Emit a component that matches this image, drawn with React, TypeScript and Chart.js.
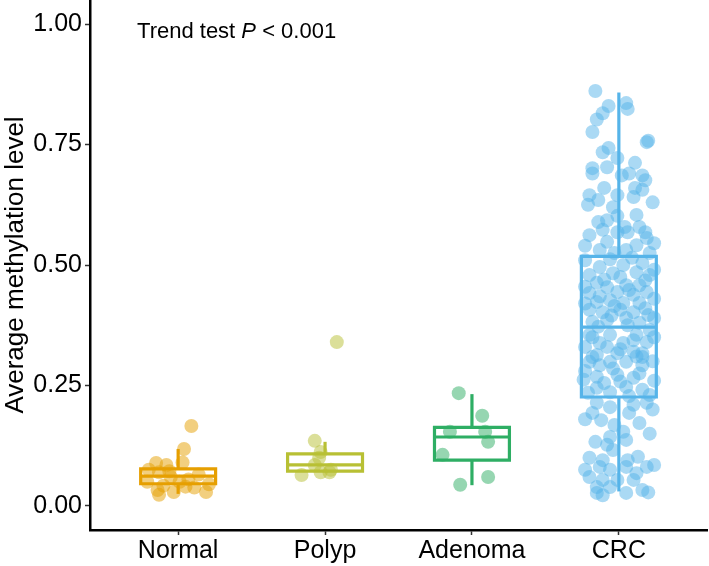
import React, { useEffect, useRef } from 'react';
import { Chart, registerables } from 'chart.js';

Chart.register(...registerables);

const FONT = "'Liberation Sans', Arial, Helvetica, sans-serif";

// ---------- data ----------
const categories = ['Normal', 'Polyp', 'Adenoma', 'CRC'];
const yTicks = [0, 0.25, 0.5, 0.75, 1.0];

const whiskerLow = [0.025, 0.072, 0.043, 0.03];
const q1 = [0.046, 0.072, 0.095, 0.226];
const median = [0.062, 0.085, 0.143, 0.371];
const q3 = [0.077, 0.108, 0.163, 0.518];
const whiskerHigh = [0.118, 0.133, 0.232, 0.858];

const normalValues = [0.166, 0.118, 0.089, 0.085, 0.09, 0.07, 0.065, 0.06, 0.055, 0.05, 0.045, 0.042, 0.038, 0.033, 0.023, 0.029, 0.04, 0.029, 0.05, 0.072, 0.075];
const normalJitter = [0.09, 0.04, -0.15, -0.08, 0.03, -0.13, 0.14, -0.05, 0.07, -0.21, 0.21, -0.1, 0.11, -0.14, -0.13, -0.03, 0.05, 0.19, 0.01, -0.06, -0.2];

const polypValues = [0.34, 0.135, 0.112, 0.064, 0.07, 0.07, 0.1, 0.075, 0.085];
const polypJitter = [0.08, -0.07, -0.03, -0.16, -0.03, 0.03, -0.04, 0.04, -0.07];

const adenomaValues = [0.234, 0.187, 0.154, 0.154, 0.133, 0.106, 0.044, 0.06];
const adenomaJitter = [-0.09, 0.07, -0.15, 0.09, 0.11, -0.2, -0.08, 0.11];

const crcValues = [
  0.861, 0.83, 0.836, 0.824, 0.815, 0.802, 0.776, 0.755, 0.758, 0.734, 0.743, 0.722, 0.701, 0.703, 0.712, 0.69, 0.686, 0.69, 0.686, 0.676,
  0.66, 0.645, 0.66, 0.656, 0.635, 0.645, 0.641, 0.62, 0.625, 0.63, 0.604, 0.602, 0.589, 0.593, 0.579, 0.579,
  0.562, 0.573, 0.568, 0.568, 0.568, 0.556, 0.548, 0.541, 0.531, 0.531, 0.545, 0.54, 0.525, 0.525,
  0.496, 0.5, 0.504, 0.479, 0.483, 0.485, 0.479, 0.463, 0.454, 0.458, 0.458, 0.442, 0.444, 0.438, 0.444, 0.423, 0.427, 0.421, 0.421, 0.407,
  0.402, 0.407, 0.402, 0.396, 0.386, 0.39, 0.382, 0.51, 0.512, 0.515, 0.49, 0.47, 0.475, 0.468, 0.455, 0.448, 0.43, 0.435, 0.415, 0.42,
  0.41, 0.375, 0.38, 0.395, 0.39, 0.372, 0.365,
  0.355, 0.355, 0.355, 0.34, 0.338, 0.338, 0.313, 0.317, 0.32, 0.309, 0.299, 0.299, 0.35, 0.33, 0.344, 0.317, 0.309, 0.292, 0.299, 0.292,
  0.268, 0.272, 0.266, 0.247, 0.245, 0.241, 0.236, 0.35, 0.33, 0.325, 0.3, 0.285, 0.28, 0.275, 0.26, 0.255, 0.235, 0.228, 0.23, 0.258, 0.262, 0.31,
  0.214, 0.205, 0.21, 0.214, 0.193, 0.193, 0.178, 0.172, 0.168, 0.154, 0.143, 0.133, 0.127, 0.137, 0.116, 0.1, 0.095, 0.095, 0.102, 0.081,
  0.081, 0.075, 0.081, 0.068, 0.06, 0.054, 0.054, 0.054, 0.039, 0.039, 0.033, 0.027, 0.027, 0.022, 0.028, 0.085, 0.075, 0.2, 0.18, 0.15,
];
const crcJitter = [
  -0.16, -0.07, 0.05, 0.06, -0.11, -0.15, -0.18, 0.19, 0.2, -0.11, -0.07, -0.01, -0.18, -0.08, 0.11, -0.18, 0.02, 0.07, 0.16, 0.18,
  -0.1, -0.2, 0.11, 0.16, -0.14, -0.01, 0.1, -0.04, -0.21, 0.23, 0.12, -0.01, -0.14, -0.08, 0.14, 0.04,
  -0.2, -0.11, -0.01, 0.06, 0.18, 0.19, -0.08, 0.12, -0.13, 0.05, 0.24, -0.23, -0.03, 0.21,
  -0.13, 0.03, 0.16, -0.2, -0.04, 0.12, 0.21, -0.15, -0.08, 0.05, 0.14, -0.2, -0.01, 0.1, 0.19, -0.15, -0.06, 0.03, 0.14, -0.2,
  -0.11, 0.01, 0.1, 0.2, -0.08, 0.05, -0.18, -0.23, -0.06, 0.09, 0.24, -0.1, 0.01, 0.18, -0.23, 0.07, 0.24, -0.13, -0.03, -0.23,
  0.18, 0.06, 0.14, -0.05, 0.24, -0.14, 0.21,
  -0.2, -0.06, 0.12, 0.19, -0.13, 0.03, -0.15, -0.01, 0.1, 0.16, -0.2, -0.06, -0.18, -0.08, 0.1, 0.16, -0.18, -0.13, 0.05, 0.16,
  -0.15, -0.01, 0.1, 0.05, -0.15, 0.16, -0.06, 0.24, -0.23, 0.01, 0.23, -0.04, -0.23, 0.14, 0.24, -0.1, -0.21, 0.07, 0.21, 0.01, -0.24, 0.12,
  -0.15, -0.06, 0.1, 0.19, -0.18, 0.07, -0.12, 0.14, -0.03, 0.03, -0.06, -0.16, -0.08, 0.05, -0.04, -0.2, -0.11, 0.06, 0.13, 0.19,
  -0.13, -0.06, 0.05, 0.12, -0.2, -0.11, -0.01, 0.1, -0.15, -0.06, 0.16, -0.15, 0.05, -0.11, 0.2, 0.24, -0.23, 0.23, -0.23, 0.21,
];

const annotation = { x: 0.72, y: 0.984 };

// ---------- styles ----------
const colors = ['#E69F00', '#B8C034', '#2EAE64', '#56B4E9'];
const BOX_HALF = 0.255;

function rgba(hex: string, a: number) {
  const n = parseInt(hex.slice(1), 16);
  return `rgba(${(n >> 16) & 255}, ${(n >> 8) & 255}, ${n & 255}, ${a})`;
}

const pointSets = [
  { values: normalValues, jitter: normalJitter },
  { values: polypValues, jitter: polypJitter },
  { values: adenomaValues, jitter: adenomaJitter },
  { values: crcValues, jitter: crcJitter },
];

function buildDatasets() {
  const ds: any[] = [];
  const lineBase = {
    showLine: true,
    pointRadius: 0,
    pointHoverRadius: 0,
    borderWidth: 3.2,
    fill: false,
    tension: 0,
    borderJoinStyle: 'miter',
    borderCapStyle: 'butt',
  };
  categories.forEach((_, i) => {
    const c = i + 1;
    ds.push({
      ...lineBase,
      borderColor: colors[i],
      borderCapStyle: 'square',
      data: [
        { x: c - BOX_HALF, y: q1[i] },
        { x: c + BOX_HALF, y: q1[i] },
        { x: c + BOX_HALF, y: q3[i] },
        { x: c - BOX_HALF, y: q3[i] },
        { x: c - BOX_HALF, y: q1[i] },
      ],
    });
    ds.push({
      ...lineBase,
      borderColor: colors[i],
      data: [
        { x: c - BOX_HALF, y: median[i] },
        { x: c + BOX_HALF, y: median[i] },
      ],
    });
    ds.push({
      ...lineBase,
      borderColor: colors[i],
      data: [
        { x: c, y: q3[i] },
        { x: c, y: whiskerHigh[i] },
      ],
    });
    ds.push({
      ...lineBase,
      borderColor: colors[i],
      data: [
        { x: c, y: whiskerLow[i] },
        { x: c, y: q1[i] },
      ],
    });
  });
  pointSets.forEach((set, i) => {
    ds.push({
      showLine: false,
      pointRadius: 7,
      pointHoverRadius: 7,
      borderWidth: 0,
      pointBorderWidth: 0,
      backgroundColor: rgba(colors[i], 0.5),
      pointBackgroundColor: rgba(colors[i], 0.5),
      data: set.values.map((v, k) => ({ x: i + 1 + set.jitter[k], y: v })),
    });
  });
  return ds;
}

const textPlugin = {
  id: 'trendText',
  afterDraw(chart: any) {
    const { ctx } = chart;
    const xs = chart.scales.x;
    const ys = chart.scales.y;
    const px = xs.getPixelForValue(annotation.x);
    const py = ys.getPixelForValue(annotation.y);
    ctx.save();
    ctx.fillStyle = '#000';
    ctx.textBaseline = 'middle';
    ctx.textAlign = 'left';
    const parts: [string, string][] = [
      ['Trend test ', `22px ${FONT}`],
      ['P', `italic 22px ${FONT}`],
      [' < 0.001', `22px ${FONT}`],
    ];
    let cx = px;
    for (const [t, f] of parts) {
      ctx.font = f;
      ctx.fillText(t, cx, py);
      cx += ctx.measureText(t).width;
    }
    ctx.restore();
  },
};

export default function App() {
  const ref = useRef<HTMLCanvasElement | null>(null);
  useEffect(() => {
    document.body.style.margin = '0';
    if (!ref.current) return;
    const chart = new Chart(ref.current, {
      type: 'scatter',
      data: { datasets: buildDatasets() },
      options: {
        animation: false,
        responsive: false,
        maintainAspectRatio: false,
        events: [],
        layout: { autoPadding: false, padding: { top: 0, right: 2, bottom: 0, left: 0 } },
        plugins: { legend: { display: false }, tooltip: { enabled: false }, title: { display: false } },
        scales: {
          x: {
            type: 'linear',
            min: 0.4,
            max: 4.6,
            afterFit: (s: any) => { s.height = 36; s.paddingLeft = 0; s.paddingRight = 0; },
            afterBuildTicks: (s: any) => { s.ticks = categories.map((_, i) => ({ value: i + 1 })); },
            ticks: {
              autoSkip: false,
              maxRotation: 0,
              padding: 1,
              color: '#000',
              font: { family: FONT, size: 25 },
              callback: (v: any) => categories[Math.round(v) - 1] ?? '',
            },
            grid: { display: true, drawOnChartArea: false, drawTicks: true, tickLength: 5, tickColor: '#333', tickWidth: 1.5 },
            border: { display: true, color: '#000', width: 2.5 },
          },
          y: {
            type: 'linear',
            min: -0.05,
            max: 1.05,
            afterFit: (s: any) => { s.width = 90; s.paddingTop = 0; s.paddingBottom = 0; },
            afterBuildTicks: (s: any) => { s.ticks = yTicks.map((v) => ({ value: v })); },
            ticks: {
              padding: 3,
              color: '#000',
              font: { family: FONT, size: 25 },
              callback: (v: any) => Number(v).toFixed(2),
            },
            grid: { display: true, drawOnChartArea: false, drawTicks: true, tickLength: 5, tickColor: '#333', tickWidth: 1.5 },
            border: { display: true, color: '#000', width: 2.5 },
            title: {
              display: true,
              text: 'Average methylation level',
              color: '#000',
              font: { family: FONT, size: 26 },
              padding: 0,
            },
          },
        },
      } as any,
      plugins: [textPlugin],
    });
    return () => chart.destroy();
  }, []);
  return (
    <div style={{ position: 'fixed', left: 0, top: 0, width: 709, height: 566, background: '#fff' }}>
      <canvas ref={ref} width={709} height={566} style={{ display: 'block', width: 709, height: 566 }} />
    </div>
  );
}
